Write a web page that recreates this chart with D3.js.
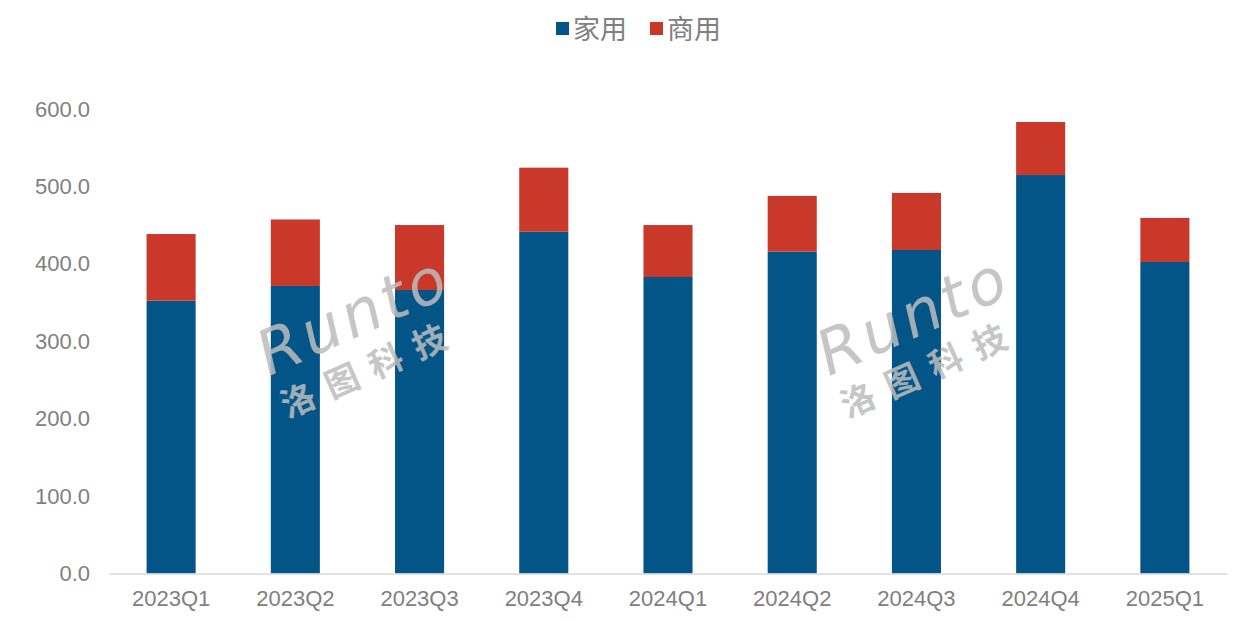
<!DOCTYPE html>
<html>
<head>
<meta charset="utf-8">
<script src="https://cdn.jsdelivr.net/npm/d3@7"></script>
<style>
  html, body { margin: 0; padding: 0; background: #fff; }
  svg { display: block; }
</style>
</head>
<body>
<svg id="chart" width="1242" height="621"></svg>
<script>
const categories = ["2023Q1","2023Q2","2023Q3","2023Q4","2024Q1","2024Q2","2024Q3","2024Q4","2025Q1"];
const homeValues = [352.4, 371.4, 366.2, 441.5, 383.0, 415.7, 417.9, 514.7, 402.4];
const commercialValues = [86.1, 85.9, 83.9, 82.7, 67.1, 72.0, 73.7, 68.5, 56.9];
const seriesNames = ["家用", "商用"];
const seriesColors = ["#045587", "#C93828"];
const yTicks = [0, 100, 200, 300, 400, 500, 600];

const svg = d3.select("#chart");
const plot = { left: 109, right: 1227, top: 109, bottom: 573.5 };
const font = "'Liberation Sans', Arial, sans-serif";
const textColor = "#808080";

const rows = categories.map((c, i) => ({ cat: c, home: homeValues[i], commercial: commercialValues[i] }));
const stacked = d3.stack().keys(["home", "commercial"])(rows);

const x = d3.scaleBand().domain(categories).range([plot.left, plot.right])
  .paddingInner(0.605).paddingOuter(0.3025);
const y = d3.scaleLinear().domain([0, 600]).range([plot.bottom, plot.top]);

// bars
svg.append("g").selectAll("g").data(stacked).join("g")
  .attr("fill", (d, i) => seriesColors[i])
  .selectAll("rect").data(d => d).join("rect")
  .attr("x", d => x(d.data.cat))
  .attr("width", x.bandwidth())
  .attr("y", d => y(d[1]))
  .attr("height", d => y(d[0]) - y(d[1]));

// y axis
const yAxis = svg.append("g").attr("transform", `translate(${plot.left - 12},0)`)
  .call(d3.axisLeft(y).tickValues(yTicks).tickFormat(d3.format(".1f")).tickSize(0).tickPadding(7));
yAxis.select(".domain").remove();
yAxis.selectAll("text").attr("fill", textColor).style("font-family", font).style("font-size", "22px");

// x axis
const xAxis = svg.append("g").attr("transform", `translate(0,${plot.bottom})`)
  .call(d3.axisBottom(x).tickSize(0).tickPadding(17));
xAxis.select(".domain").attr("stroke", "#d9d9d9").attr("stroke-width", 1.5);
xAxis.selectAll("text").attr("fill", textColor).style("font-family", font).style("font-size", "22px");

// legend
const legend = svg.append("g");
const legendItems = [{ x: 556, tx: 573 }, { x: 650, tx: 667 }];
seriesNames.forEach((name, i) => {
  legend.append("rect").attr("x", legendItems[i].x).attr("y", 22).attr("width", 13).attr("height", 13)
    .attr("fill", seriesColors[i]);
  legend.append("text").attr("x", legendItems[i].tx).attr("y", 27).attr("dominant-baseline", "central")
    .attr("fill", textColor).style("font-family", "'Noto Sans CJK SC', sans-serif").style("font-size", "27px")
    .text(name);
});

// watermarks
function watermark(cx, cy) {
  const g = svg.append("g").attr("transform", `translate(${cx},${cy}) rotate(-24)`)
    .attr("fill", "#bdbdbd").attr("opacity", 0.85);
  g.append("text").attr("x", 0).attr("y", 0).attr("text-anchor", "middle")
    .style("font-family", "'DejaVu Sans', sans-serif").style("font-size", "62px")
    .style("font-style", "italic").style("letter-spacing", "4px").text("Runto");
  g.append("text").attr("x", -6).attr("y", 46).attr("text-anchor", "middle")
    .style("font-family", "'Noto Sans CJK SC', sans-serif").style("font-size", "34px")
    .style("font-weight", "bold").style("letter-spacing", "14px").text("洛图科技");
}
watermark(362, 335);
watermark(922, 335);
</script>
</body>
</html>
